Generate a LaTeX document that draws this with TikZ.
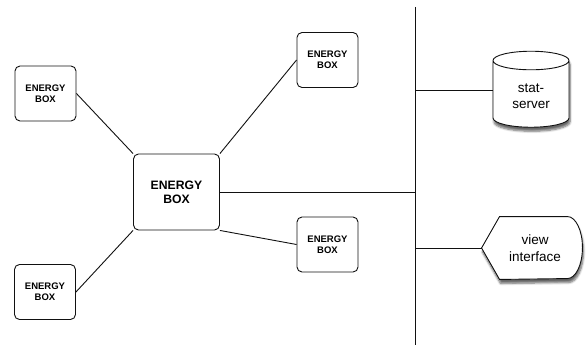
\documentclass[tikz,border=0pt]{standalone}
\usepackage{fontspec}
\setmainfont{Liberation Sans}
\usepackage{xcolor}
\usepackage{tikz}
\usetikzlibrary{positioning,shapes.geometric,shadows.blur}
\definecolor{ink}{HTML}{111111}
\definecolor{paper}{HTML}{FFFFFF}
\newcommand{\ebox}{ENERGY\\BOX}

\begin{document}
\begin{tikzpicture}[x=1pt,y=-1pt,line width=.9pt,draw=ink,
    box/.style={draw=ink,fill=paper,rounded corners=5pt,minimum width=61pt,minimum height=55pt,align=center,
      font=\fontsize{9.5}{11}\selectfont\bfseries},
    hubbox/.style={box,minimum width=86pt,minimum height=76pt,font=\fontsize{12.2}{14.3}\selectfont\bfseries},
    store/.style={cylinder,shape border rotate=90,aspect=.42,draw=ink,fill=paper,minimum width=76pt,minimum height=76pt,
      align=center,font=\fontsize{13.5}{16.5}\selectfont,
      blur shadow={shadow xshift=1pt,shadow yshift=-4pt,shadow blur steps=6,shadow opacity=60}},
    screen/.style={draw=ink,fill=paper,blur shadow={shadow xshift=1pt,shadow yshift=-4pt,shadow blur steps=6,shadow opacity=60}},
    link/.style={ink,line width=.9pt}]
    \useasboundingbox (0,0) rectangle (586,345);
    % energy boxes
    \node[hubbox] (hub) at (176.5,192) {\ebox};
    \node[box] (boxa) at (45.5,93.5) {\ebox};
    \node[box] (boxb) at (45,292) {\ebox};
    \node[box] (boxc) at (327.5,60) {\ebox};
    \node[box] (boxd) at (327.5,244.5) {\ebox};
    % bus
    \coordinate (bustop) at (415,7);
    \coordinate (busbot) at (415,345);
    \draw[link] (bustop) -- (busbot);
    % stat-server and view
    \node[store] (stat) at (531,96) {stat-\\server};
    \node[minimum width=100pt,minimum height=62pt] (view) at (532,248) {};
    \draw[screen] (view.west) -- ([xshift=18pt]view.north west) -- ([xshift=-15pt]view.north east)
      arc[start angle=90,end angle=-90,x radius=15pt,y radius=31pt] -- ([xshift=18pt]view.south west) -- cycle;
    \node[align=center,font=\fontsize{13.5}{16.5}\selectfont] (viewtext) at ([xshift=3pt]view.center) {view\\interface};
    % links
    \draw[link] (boxa.east) -- (hub.north west);
    \draw[link] (boxb.east) -- (hub.south west);
    \draw[link] (hub.north east) -- (boxc.west);
    \draw[link] (hub.south east) -- (boxd.west);
    \draw[link] (hub.east) -- (hub.east -| bustop);
    \draw[link] ([yshift=6pt]stat.west -| bustop) -- ([yshift=6pt]stat.west);
    \draw[link] (view.west -| bustop) -- (view.west);
  \end{tikzpicture}
\end{document}
